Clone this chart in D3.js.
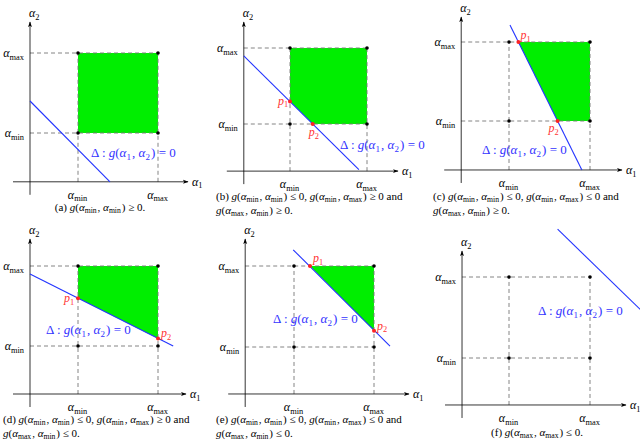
<!DOCTYPE html>
<html><head><meta charset="utf-8">
<script src="https://cdn.jsdelivr.net/npm/d3@7"></script>
<style>body{margin:0;background:#fff}svg{display:block}</style>
</head><body><svg id="c" width="640" height="441" font-family="'Liberation Serif', 'Times New Roman', 'DejaVu Serif', serif"></svg>
<script>
// data units: alpha_min = 0, alpha_max = 1
const panelIds = ["a","b","c","d","e","f"];
const tickLabels = ["$α_{min}$","$α_{max}$"];
const origins = [[-0.6,-0.61],[-0.6,-0.62],[-0.59,-0.62],[-0.6,-0.6],[-0.61,-0.58],[-0.58,-0.58]];
const deltaLines = [
  [[-0.6,0.4],[0.4,-0.61]],
  [[-0.6,0.895],[0.895,-0.6]],
  [[0.012,1.215],[0.9,-0.62]],
  [[-0.6,0.9],[1.19,0.0]],
  [[-0.01,1.2],[1.2,0.01]],
  [[0.6,1.59],[1.62,0.6]]
];
const p1s = [null,[0,0.295],[0.116,1],[0,0.598],[0.2,1],null];
const p2s = [null,[0.295,0],[0.6,0],[1,0.095],[1,0.2],null];
const feasible = [
  [[0,0],[1,0],[1,1],[0,1]],
  [[0,0.295],[0,1],[1,1],[1,0],[0.295,0]],
  [[0.116,1],[1,1],[1,0],[0.6,0]],
  [[0,0.598],[0,1],[1,1],[1,0.095]],
  [[0.2,1],[1,1],[1,0.2]],
  []
];
const deltaLabel = "$Δ : g(α_{1}, α_{2}) = 0$";
const captions = [
  ["(a) $g(α_{min}, α_{min}) ≥ 0$."],
  ["(b) $g(α_{min}, α_{min}) ≤ 0$, $g(α_{min}, α_{max}) ≥ 0$ and","$g(α_{max}, α_{min}) ≥ 0$."],
  ["(c) $g(α_{min}, α_{min}) ≤ 0$, $g(α_{min}, α_{max}) ≤ 0$ and","$g(α_{max}, α_{min}) ≥ 0$."],
  ["(d) $g(α_{min}, α_{min}) ≤ 0$, $g(α_{min}, α_{max}) ≥ 0$ and","$g(α_{max}, α_{min}) ≤ 0$."],
  ["(e) $g(α_{min}, α_{min}) ≤ 0$, $g(α_{min}, α_{max}) ≤ 0$ and","$g(α_{max}, α_{min}) ≤ 0$."],
  ["(f) $g(α_{max}, α_{max}) ≤ 0$."]
];
// layout (pixels)
const layout = [
  {x:[78,158],y:[133,53],top:22,right:188,lab:[91,157],cap:{x:100,y:211,anchor:"middle"}},
  {x:[290,367],y:[124,48],top:22,right:398,lab:[340,149],cap:{x:216,y:200,anchor:"start"}},
  {x:[509,590],y:[121,42],top:17,right:622,lab:[482,154],cap:{x:433,y:200,anchor:"start"}},
  {x:[78,158],y:[346,266],top:239,right:186,lab:[46,334],cap:{x:3,y:423,anchor:"start"}},
  {x:[294,374],y:[347,266],top:239,right:409,lab:[273,323],cap:{x:216,y:423,anchor:"start"}},
  {x:[509,590],y:[358,277],top:251,right:626,lab:[538,315],cap:{x:537,y:436,anchor:"middle"}}
];
const svg = d3.select("#c");
function rich(sel, str, size){
  const parts = str.split("$");
  parts.forEach((p,i)=>{
    if(i%2===0){ if(p) sel.append("tspan").text(p); return; }
    const re=/_\{([^}]*)\}|([A-Za-zα]+)|([^A-Za-zα_]+)/g; let m;
    while((m=re.exec(p))){
      if(m[1]!==undefined){
        sel.append("tspan").attr("dy",size*0.22).attr("font-size",size*0.7).text(m[1]);
        sel.append("tspan").attr("dy",-size*0.22).attr("font-size",size).text("\u200a");
      } else if(m[2]) sel.append("tspan").attr("font-style","italic").text(m[2]);
      else sel.append("tspan").text(m[3]);
    }
  });
}
svg.append("defs").append("marker").attr("id","arr").attr("viewBox","0 0 10 10").attr("refX",9).attr("refY",5)
  .attr("markerWidth",7).attr("markerHeight",7).attr("orient","auto")
  .append("path").attr("d","M0,1.5L10,5L0,8.5L2.5,5Z").attr("fill","#000");
panelIds.forEach((id,i)=>{
  const L=layout[i];
  const x=d3.scaleLinear().domain([0,1]).range(L.x);
  const y=d3.scaleLinear().domain([0,1]).range(L.y);
  const g=svg.append("g");
  const ox=x(origins[i][0]), oy=y(origins[i][1]);
  if(feasible[i].length) g.append("path").attr("d",d3.line().x(d=>x(d[0])).y(d=>y(d[1]))(feasible[i])+"Z").attr("fill","#00ee00");
  const dash={"stroke":"#777","stroke-width":0.9,"stroke-dasharray":"4,3","fill":"none"};
  [0,1].forEach(v=>{
    const h=g.append("line").attr("x1",ox).attr("x2",x(1)).attr("y1",y(v)).attr("y2",y(v));
    const w=g.append("line").attr("x1",x(v)).attr("x2",x(v)).attr("y1",oy).attr("y2",y(1));
    [h,w].forEach(s=>Object.entries(dash).forEach(([k,val])=>s.attr(k,val)));
  });
  g.append("line").attr("x1",ox-17).attr("x2",L.right).attr("y1",oy).attr("y2",oy).attr("stroke","#000").attr("stroke-width",0.8).attr("marker-end","url(#arr)");
  g.append("line").attr("x1",ox).attr("x2",ox).attr("y1",oy+13).attr("y2",L.top).attr("stroke","#000").attr("stroke-width",0.8).attr("marker-end","url(#arr)");
  rich(g.append("text").attr("x",L.right+4).attr("y",oy+4).attr("font-size",12),"$α_{1}$",12);
  rich(g.append("text").attr("x",ox-1).attr("y",L.top-5).attr("font-size",12),"$α_{2}$",12);
  [0,1].forEach(v=>{
    rich(g.append("text").attr("x",x(v)).attr("y",oy+17).attr("text-anchor","middle").attr("font-size",12),tickLabels[v],12);
    rich(g.append("text").attr("x",ox-5).attr("y",y(v)+4).attr("text-anchor","end").attr("font-size",12),tickLabels[v],12);
  });
  [[0,0],[1,0],[0,1],[1,1]].forEach(c=>g.append("circle").attr("cx",x(c[0])).attr("cy",y(c[1])).attr("r",1.8).attr("fill","#000"));
  const dl=deltaLines[i];
  g.append("line").attr("x1",x(dl[0][0])).attr("y1",y(dl[0][1])).attr("x2",x(dl[1][0])).attr("y2",y(dl[1][1])).attr("stroke","#2233ff").attr("stroke-width",1.1);
  rich(g.append("text").attr("x",L.lab[0]).attr("y",L.lab[1]).attr("fill","#3333ff").attr("font-size",13),deltaLabel,13);
  [[p1s[i],"p_{1}"],[p2s[i],"p_{2}"]].forEach(([p,lbl],k)=>{
    if(!p) return;
    g.append("circle").attr("cx",x(p[0])).attr("cy",y(p[1])).attr("r",2).attr("fill","#ff2222");
    const tx=x(p[0]), ty=y(p[1]);
    const off = {b:[[-12,3],[-4,12]],c:[[2,-3],[-9,11]],d:[[-14,4],[3,-1]],e:[[3,-4],[3,-1]]}[id][k];
    rich(g.append("text").attr("x",tx+off[0]).attr("y",ty+off[1]).attr("fill","#ff3333").attr("font-size",12),"$"+lbl+"$",12);
  });
  captions[i].forEach((c,j)=>{
    rich(g.append("text").attr("x",L.cap.x).attr("y",L.cap.y+j*13.5).attr("text-anchor",L.cap.anchor).attr("font-size",11),c,11);
  });
});
</script></body></html>
